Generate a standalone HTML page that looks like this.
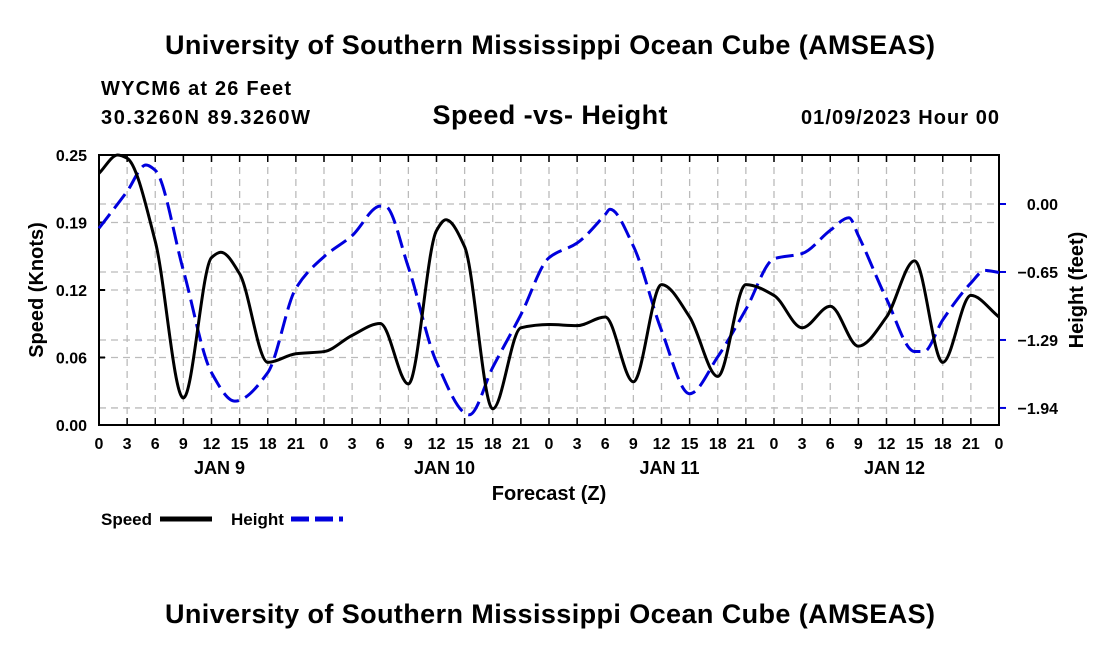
<!DOCTYPE html>
<html><head><meta charset="utf-8"><style>
body{margin:0;background:#fff;width:1100px;height:650px;overflow:hidden;font-family:"Liberation Sans",sans-serif;}
svg text{font-family:"Liberation Sans",sans-serif;font-weight:bold;fill:#000;}
</style></head><body>
<svg id="chart" width="1100" height="650">
<text x="550" y="54" font-size="27" text-anchor="middle" textLength="770">University of Southern Mississippi Ocean Cube (AMSEAS)</text>
<text x="101" y="95" font-size="20" textLength="190">WYCM6 at 26 Feet</text>
<text x="101" y="124" font-size="20" textLength="209">30.3260N  89.3260W</text>
<text x="550" y="124" font-size="27" text-anchor="middle" textLength="235">Speed -vs- Height</text>
<text x="999" y="124" font-size="20" text-anchor="end" textLength="198">01/09/2023 Hour 00</text>
<g id="grid"></g><g id="axes"></g><g id="series"></g>
<text x="549" y="500" font-size="20" text-anchor="middle">Forecast (Z)</text>
<text transform="translate(43,290) rotate(-90)" font-size="20" text-anchor="middle">Speed (Knots)</text>
<text transform="translate(1083,290) rotate(-90)" font-size="20" text-anchor="middle">Height (feet)</text>
<g><text x="101" y="525" font-size="17">Speed</text><line x1="160" y1="519" x2="212" y2="519" stroke="#000" stroke-width="5"/></g>
<g><text x="231" y="525" font-size="17">Height</text><line x1="291" y1="519" x2="343" y2="519" stroke="#0000dd" stroke-width="5" stroke-dasharray="18,6"/></g>
<text x="550" y="623" font-size="27" text-anchor="middle" textLength="770">University of Southern Mississippi Ocean Cube (AMSEAS)</text>
</svg>
<script>
const speedHours=[0,2,3,6,9,12,13,15,18,21,24,27,30,33,36,37,39,42,45,48,51,54,57,60,63,66,69,72,75,78,81,84,87,90,93,96];
const speedValues=[0.233,0.25,0.247,0.17,0.025,0.155,0.16,0.14,0.058,0.066,0.068,0.083,0.094,0.038,0.18,0.19,0.165,0.015,0.09,0.093,0.092,0.1,0.04,0.13,0.1,0.045,0.13,0.12,0.09,0.11,0.073,0.1,0.152,0.058,0.12,0.1];
const heightHours=[0,3,5,6,9,12,14.5,18,21,24,27,30,30.5,33,36,39.5,42,45,48,51,54,54.5,57,60,63,66,69,72,75,78,80,81,84,87,88,90,93,94.5,96];
const heightValues=[-0.23,0.12,0.37,0.32,-0.63,-1.6,-1.87,-1.6,-0.8,-0.5,-0.3,-0.02,-0.02,-0.6,-1.5,-2.0,-1.55,-1.05,-0.51,-0.37,-0.1,-0.05,-0.4,-1.2,-1.8,-1.45,-1.0,-0.52,-0.47,-0.25,-0.13,-0.3,-0.9,-1.4,-1.4,-1.1,-0.75,-0.63,-0.65];
const speedTicks=[0,0.0625,0.125,0.1875,0.25];
const speedTickLabels=["0.00","0.06","0.12","0.19","0.25"];
const heightTicks=[0,-0.645,-1.29,-1.935];
const heightTickLabels=["0.00","\u22120.65","\u22121.29","\u22121.94"];
const hourLabels=["0","3","6","9","12","15","18","21"];
const dayLabels=["JAN 9","JAN 10","JAN 11","JAN 12"];
const X0=99,X1=999,Y0=425,Y1=155;
const xs=h=>X0+(X1-X0)*h/96;
const ys=v=>Y0-(Y0-Y1)*v/0.25;
const yh=v=>204-v*105.4;
const NS='http://www.w3.org/2000/svg';
function mk(tag,attrs,parent){const e=document.createElementNS(NS,tag);for(const k in attrs)e.setAttribute(k,attrs[k]);parent.appendChild(e);return e;}
const grid=document.getElementById('grid'),axes=document.getElementById('axes'),series=document.getElementById('series');
for(let i=1;i<32;i++){const l=mk('line',{x1:xs(i*3),x2:xs(i*3),y1:Y1,y2:Y0,stroke:'#bbb','stroke-width':1.3,'stroke-dasharray':'7,5'},grid);

}
speedTicks.forEach((v,i)=>{if(i>0&&i<4){const l=mk('line',{x1:X0,x2:X1,y1:ys(v),y2:ys(v),stroke:'#bbb','stroke-width':1.3,'stroke-dasharray':'7,5'},grid);

}
const t=mk('text',{x:X0-12,y:ys(v)+6,'font-size':16,'text-anchor':'end'},axes);t.textContent=speedTickLabels[i];


mk('line',{x1:X0,x2:X0+6,y1:ys(v),y2:ys(v),stroke:'#000','stroke-width':2},axes);});
heightTicks.forEach((v,i)=>{const l=mk('line',{x1:X0,x2:X1,y1:yh(v),y2:yh(v),stroke:'#bbb','stroke-width':1.3,'stroke-dasharray':'7,5'},grid);


mk('line',{x1:X1,x2:X1+7,y1:yh(v),y2:yh(v),stroke:'#0000dd','stroke-width':2},axes);
const t=mk('text',{x:1058,y:yh(v)+6,'font-size':16,'text-anchor':'end'},axes);t.textContent=heightTickLabels[i];

});
for(let i=0;i<=32;i++){const x=xs(i*3);
mk('line',{x1:x,x2:x,y1:Y0,y2:Y0-7,stroke:'#000','stroke-width':1.5},axes);
mk('line',{x1:x,x2:x,y1:Y1,y2:Y1+7,stroke:'#000','stroke-width':1.5},axes);
const t=mk('text',{x:x,y:449,'font-size':16,'text-anchor':'middle'},axes);t.textContent=hourLabels[i%8];

}
dayLabels.forEach((d,i)=>{const t=mk('text',{x:xs(i*24+12)+8,y:474,'font-size':18,'text-anchor':'middle'},axes);t.textContent=d;

});
mk('rect',{x:X0,y:Y1,width:X1-X0,height:Y0-Y1,fill:'none',stroke:'#000','stroke-width':2},axes);
mk('line',{x1:X0,x2:X1,y1:Y1,y2:Y1,stroke:'#000','stroke-width':2,'stroke-dasharray':'3,3'},axes);
function smooth(hs,vs,fy){const n=hs.length;const px=hs.map(xs),py=vs.map(fy);
const d=[],m=new Array(n);for(let i=0;i<n-1;i++)d.push((py[i+1]-py[i])/(px[i+1]-px[i]));
m[0]=d[0];m[n-1]=d[n-2];
for(let i=1;i<n-1;i++){if(d[i-1]*d[i]<=0)m[i]=0;else{const w1=2*(px[i+1]-px[i])+(px[i]-px[i-1]),w2=(px[i+1]-px[i])+2*(px[i]-px[i-1]);m[i]=(w1+w2)/(w1/d[i-1]+w2/d[i]);}}
let s='M'+px[0]+','+py[0];
for(let i=0;i<n-1;i++){const h=(px[i+1]-px[i])/3;s+=' C'+(px[i]+h)+','+(py[i]+m[i]*h)+' '+(px[i+1]-h)+','+(py[i+1]-m[i+1]*h)+' '+px[i+1]+','+py[i+1];}
return s;}
const hp=mk('path',{d:smooth(heightHours,heightValues,yh),fill:'none',stroke:'#0000dd','stroke-width':3,'stroke-dasharray':'18,7'},series);


const sp=mk('path',{d:smooth(speedHours,speedValues,ys),fill:'none',stroke:'#000','stroke-width':3},series);


</script>
</body></html>
